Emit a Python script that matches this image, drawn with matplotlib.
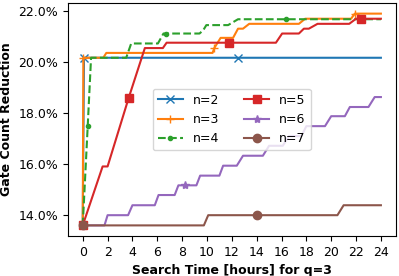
import matplotlib
matplotlib.use("Agg")
from matplotlib import pyplot as plt
from matplotlib.ticker import PercentFormatter

# search time [hours] and gate count reduction [%] for each n
t2 = [0, 0.1, 12.5, 24]
v2 = [13.6, 20.17, 20.17, 20.17]
m2 = [1, 2]

t3 = [0, 0.05, 1.65, 1.9, 10.45, 10.6, 11.1, 12.1, 12.5, 12.9, 13.4, 17.4, 17.9, 21.6, 21.9, 24]
v3 = [13.6, 20.17, 20.17, 20.36, 20.36, 20.56, 20.95, 20.95, 21.31, 21.31, 21.5, 21.5, 21.7, 21.7, 21.9, 21.9]
m3 = [1, 5, 14]

t4 = [0, 0.4, 0.67, 3.5, 3.9, 6.05, 6.5, 6.67, 9.4, 9.7, 9.95, 11.7, 12.5, 16.4, 24]
v4 = [13.6, 17.49, 20.17, 20.17, 20.73, 20.73, 21.12, 21.12, 21.12, 21.25, 21.45, 21.45, 21.68, 21.68, 21.68]
m4 = [1, 7, 13]

t5 = [0, 1.6, 2.0, 3.7, 5.0, 6.45, 6.75, 11.75, 15.55, 16.05, 17.4, 17.8, 18.2, 18.9, 21.45, 22.0, 22.4, 24]
v5 = [13.6, 15.91, 15.91, 18.6, 20.55, 20.55, 20.76, 20.76, 20.76, 21.12, 21.12, 21.31, 21.31, 21.5, 21.5, 21.7, 21.7, 21.7]
m5 = [0, 3, 7, 16]

t6 = [0, 1.75, 2.0, 3.65, 4.0, 5.8, 6.1, 7.4, 7.7, 8.2, 9.15, 9.45, 11.0, 11.3, 12.4, 12.9, 14.5, 15.0,
      16.1, 16.6, 17.6, 18.0, 19.5, 20.0, 21.1, 21.5, 23.0, 23.5, 24]
v6 = [13.6, 13.6, 14.0, 14.0, 14.39, 14.39, 14.79, 14.79, 15.17, 15.17, 15.17, 15.55, 15.55, 15.94, 15.94, 16.33,
      16.33, 16.72, 16.72, 17.1, 17.1, 17.49, 17.49, 17.88, 17.88, 18.24, 18.24, 18.63, 18.63]
m6 = [0, 9]

t7 = [0, 9.75, 10.1, 14.0, 20.5, 21.0, 24]
v7 = [13.6, 13.6, 14.0, 14.0, 14.0, 14.39, 14.39]
m7 = [0, 3]

plt.rcParams["font.size"] = 9
fig, ax = plt.subplots(figsize=(3.99, 2.76), dpi=100)

ax.plot(t2, v2, marker="x", markevery=m2, label="n=2")
ax.plot(t3, v3, marker="+", markevery=m3, label="n=3")
ax.plot(t4, v4, marker=".", linestyle="--", markevery=m4, label="n=4")
ax.plot(t5, v5, marker="s", markevery=m5, label="n=5")
ax.plot(t6, v6, marker="*", markevery=m6, label="n=6")
ax.plot(t7, v7, marker="o", markevery=m7, label="n=7")

ax.set_xticks(range(0, 25, 2))
ax.yaxis.set_major_formatter(PercentFormatter(100, decimals=1))
ax.set_xlabel("Search Time [hours] for q=3", fontweight="bold")
ax.set_ylabel("Gate Count Reduction", fontweight="bold")
ax.legend(loc="center", ncol=2)

fig.subplots_adjust(left=0.170, right=0.992, top=0.989, bottom=0.145)
fig.savefig("out.png", dpi=100)
